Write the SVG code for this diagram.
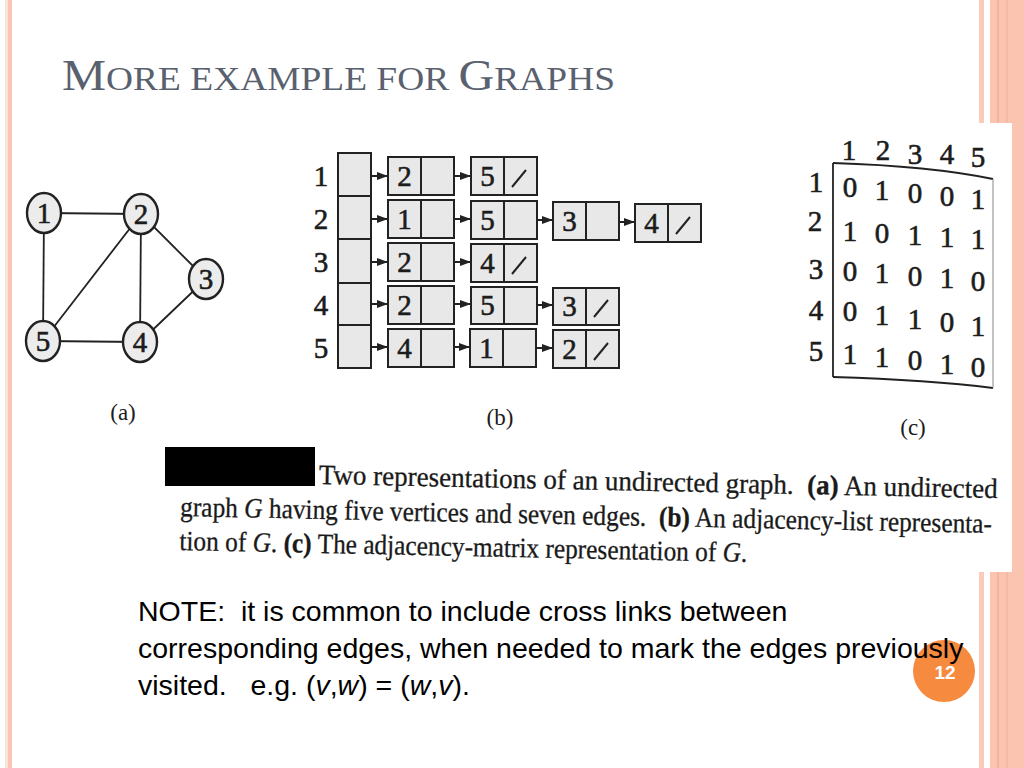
<svg xmlns="http://www.w3.org/2000/svg" width="1024" height="768" viewBox="0 0 1024 768">
<defs>
<style>
.serif{font-family:"Liberation Serif","Times New Roman",serif;fill:#1c1c1c}
.dig{font-size:29px;text-anchor:middle;stroke:#1c1c1c;stroke-width:0.6}
.lbl{font-size:23px;text-anchor:middle}
.cell{fill:#e8e8e8;stroke:#222;stroke-width:2}
.vx{fill:#ececec;stroke:#222;stroke-width:2.4}
.edge{stroke:#222;stroke-width:1.8;fill:none}
.arr{stroke:#222;stroke-width:2;fill:none;marker-end:url(#ah)}
.sl{stroke:#222;stroke-width:2}
.cap{font-family:"Liberation Serif","Times New Roman",serif;font-size:28px;fill:#1a1a1a;stroke:#1a1a1a;stroke-width:0.3}
.note{font-family:"Liberation Sans",Arial,sans-serif;font-size:28.5px;fill:#000}
</style>
<marker id="ah" markerWidth="11" markerHeight="8" refX="11" refY="4" orient="auto" markerUnits="userSpaceOnUse">
<path d="M0,0 L11,4 L0,8 z" fill="#222"/>
</marker>
</defs>
<rect width="1024" height="768" fill="#ffffff"/>
<!-- border stripes -->
<g id="border">
<rect x="5" y="0" width="3" height="768" fill="#f9e4d8"/>
<rect x="8" y="0" width="4" height="768" fill="#fbc4b3"/>
<rect x="979" y="0" width="5" height="768" fill="#fccab9"/>
<rect x="990" y="0" width="34" height="768" fill="#fac4b0"/>
<rect x="997.5" y="0" width="1" height="768" fill="#efa286"/>
<rect x="1006.5" y="0" width="1" height="768" fill="#f3ad93"/>
<rect x="880" y="123" width="132" height="449" fill="#ffffff"/>
</g>
<!-- title -->
<text id="title" x="62" y="90" font-family="Liberation Serif,'Times New Roman',serif" fill="#59616e" textLength="553" lengthAdjust="spacingAndGlyphs"><tspan font-size="45">M</tspan><tspan font-size="34">ORE EXAMPLE FOR </tspan><tspan font-size="45">G</tspan><tspan font-size="34">RAPHS</tspan></text>

<!-- connectors -->
<g id="connectors">
<line class="edge" x1="44" y1="213" x2="141" y2="214"/>
<line class="edge" x1="44" y1="213" x2="43" y2="341"/>
<line class="edge" x1="141" y1="214" x2="43" y2="341"/>
<line class="edge" x1="141" y1="214" x2="140" y2="342"/>
<line class="edge" x1="141" y1="214" x2="206" y2="279"/>
<line class="edge" x1="206" y1="279" x2="140" y2="342"/>
<line class="edge" x1="43" y1="341" x2="140" y2="342"/>
<!-- adjacency list arrows -->
<line class="arr" x1="355" y1="176" x2="388" y2="176"/>
<line class="arr" x1="437" y1="176" x2="471" y2="176"/>
<line class="arr" x1="355" y1="219" x2="388" y2="219"/>
<line class="arr" x1="437" y1="219" x2="471" y2="219"/>
<line class="arr" x1="519" y1="220" x2="553" y2="220"/>
<line class="arr" x1="602" y1="222" x2="635" y2="222"/>
<line class="arr" x1="355" y1="262" x2="388" y2="262"/>
<line class="arr" x1="437" y1="262" x2="471" y2="262"/>
<line class="arr" x1="355" y1="304" x2="388" y2="304"/>
<line class="arr" x1="437" y1="304" x2="471" y2="304"/>
<line class="arr" x1="519" y1="305" x2="553" y2="305"/>
<line class="arr" x1="354" y1="347" x2="388" y2="347"/>
<line class="arr" x1="436" y1="347" x2="470" y2="347"/>
<line class="arr" x1="519" y1="348" x2="553" y2="348"/>
</g>

<!-- graph (a) nodes -->
<g id="v1"><ellipse class="vx" cx="44" cy="213" rx="17" ry="20"/><text class="serif dig" x="44" y="223">1</text></g>
<g id="v2"><ellipse class="vx" cx="141" cy="214" rx="17" ry="20"/><text class="serif dig" x="141" y="224">2</text></g>
<g id="v3"><ellipse class="vx" cx="206" cy="279" rx="17" ry="20"/><text class="serif dig" x="206" y="289">3</text></g>
<g id="v4"><ellipse class="vx" cx="140" cy="342" rx="17" ry="20"/><text class="serif dig" x="140" y="352">4</text></g>
<g id="v5"><ellipse class="vx" cx="43" cy="341" rx="17" ry="20"/><text class="serif dig" x="43" y="351">5</text></g>
<text id="label-a" class="serif lbl" x="123" y="420">(a)</text>

<!-- adjacency list (b) -->
<g id="row-labels">
<text class="serif dig" x="321" y="186">1</text>
<text class="serif dig" x="321" y="229">2</text>
<text class="serif dig" x="321" y="272">3</text>
<text class="serif dig" x="321" y="315">4</text>
<text class="serif dig" x="321" y="358">5</text>
</g>
<g id="head-array">
<rect class="cell" x="338" y="153" width="33" height="215"/>
<line class="sl" x1="338" y1="196" x2="371" y2="196"/>
<line class="sl" x1="338" y1="239" x2="371" y2="239"/>
<line class="sl" x1="338" y1="283" x2="371" y2="283"/>
<line class="sl" x1="338" y1="325" x2="371" y2="325"/>
</g>
<!-- row 1 -->
<g id="n1a"><rect class="cell" x="388" y="157" width="66" height="38"/><line class="sl" x1="421" y1="157" x2="421" y2="195"/><text class="serif dig" x="404.5" y="186">2</text></g>
<g id="n1b"><rect class="cell" x="471" y="157" width="66" height="38"/><line class="sl" x1="504" y1="157" x2="504" y2="195"/><text class="serif dig" x="487.5" y="186">5</text><line class="sl" x1="512" y1="187" x2="526" y2="170"/></g>
<!-- row 2 -->
<g id="n2a"><rect class="cell" x="388" y="200" width="66" height="38"/><line class="sl" x1="421" y1="200" x2="421" y2="238"/><text class="serif dig" x="404.5" y="229">1</text></g>
<g id="n2b"><rect class="cell" x="471" y="201" width="66" height="38"/><line class="sl" x1="504" y1="201" x2="504" y2="239"/><text class="serif dig" x="487.5" y="230">5</text></g>
<g id="n2c"><rect class="cell" x="553" y="202" width="66" height="38"/><line class="sl" x1="586" y1="202" x2="586" y2="240"/><text class="serif dig" x="569.5" y="231">3</text></g>
<g id="n2d"><rect class="cell" x="635" y="204" width="66" height="38"/><line class="sl" x1="668" y1="204" x2="668" y2="242"/><text class="serif dig" x="651.5" y="233">4</text><line class="sl" x1="676" y1="234" x2="690" y2="217"/></g>
<!-- row 3 -->
<g id="n3a"><rect class="cell" x="388" y="243" width="66" height="38"/><line class="sl" x1="421" y1="243" x2="421" y2="281"/><text class="serif dig" x="404.5" y="272">2</text></g>
<g id="n3b"><rect class="cell" x="471" y="244" width="66" height="38"/><line class="sl" x1="504" y1="244" x2="504" y2="282"/><text class="serif dig" x="487.5" y="273">4</text><line class="sl" x1="512" y1="274" x2="526" y2="257"/></g>
<!-- row 4 -->
<g id="n4a"><rect class="cell" x="388" y="286" width="66" height="38"/><line class="sl" x1="421" y1="286" x2="421" y2="324"/><text class="serif dig" x="404.5" y="315">2</text></g>
<g id="n4b"><rect class="cell" x="471" y="287" width="66" height="37"/><line class="sl" x1="504" y1="287" x2="504" y2="324"/><text class="serif dig" x="487.5" y="315">5</text></g>
<g id="n4c"><rect class="cell" x="553" y="288" width="66" height="37"/><line class="sl" x1="586" y1="288" x2="586" y2="325"/><text class="serif dig" x="569.5" y="316">3</text><line class="sl" x1="594" y1="317" x2="608" y2="300"/></g>
<!-- row 5 -->
<g id="n5a"><rect class="cell" x="388" y="329" width="66" height="38"/><line class="sl" x1="421" y1="329" x2="421" y2="367"/><text class="serif dig" x="404.5" y="358">4</text></g>
<g id="n5b"><rect class="cell" x="470" y="329" width="66" height="38"/><line class="sl" x1="503" y1="329" x2="503" y2="367"/><text class="serif dig" x="486.5" y="358">1</text></g>
<g id="n5c"><rect class="cell" x="553" y="330" width="66" height="38"/><line class="sl" x1="586" y1="330" x2="586" y2="368"/><text class="serif dig" x="569.5" y="359">2</text><line class="sl" x1="594" y1="360" x2="608" y2="343"/></g>
<text id="label-b" class="serif lbl" x="500" y="425">(b)</text>

<!-- adjacency matrix (c) -->
<g id="matrix">
<g class="serif dig">
<text x="849" y="160">1</text><text x="883" y="160">2</text><text x="915" y="164">3</text><text x="947" y="164">4</text><text x="978" y="167">5</text>
<text x="816" y="192">1</text><text x="815" y="231">2</text><text x="816" y="279">3</text><text x="816" y="320">4</text><text x="816" y="361">5</text>
<text x="850" y="197">0</text><text x="882" y="200">1</text><text x="915" y="203">0</text><text x="947" y="206">0</text><text x="978" y="209">1</text>
<text x="850" y="241">1</text><text x="882" y="243">0</text><text x="915" y="245">1</text><text x="947" y="247">1</text><text x="978" y="249">1</text>
<text x="850" y="281">0</text><text x="882" y="283">1</text><text x="915" y="286">0</text><text x="947" y="288">1</text><text x="978" y="291">0</text>
<text x="850" y="321">0</text><text x="882" y="325">1</text><text x="915" y="329">1</text><text x="947" y="332">0</text><text x="978" y="336">1</text>
<text x="850" y="364">1</text><text x="882" y="367">1</text><text x="915" y="370">0</text><text x="947" y="374">1</text><text x="978" y="377">0</text>
</g>
<path d="M833,163 Q930,166 993,179" class="edge"/>
<path d="M833,163 L833,377" class="edge"/>
<path d="M833,377 Q930,380 993,388" class="edge"/>
<path d="M993,179 L993,388" stroke="#888" stroke-width="1" fill="none"/>
</g>
<text id="label-c" class="serif lbl" x="913" y="435">(c)</text>

<!-- caption -->
<g id="caption">
<rect x="165" y="447" width="150" height="39" fill="#000"/>
<g transform="rotate(1.2 180 516)">
<text class="cap" x="318" y="481" textLength="679" lengthAdjust="spacingAndGlyphs" xml:space="preserve">Two representations of an undirected graph.  <tspan font-weight="bold">(a)</tspan> An undirected</text>
<text class="cap" x="180" y="516" textLength="812" lengthAdjust="spacingAndGlyphs" xml:space="preserve">graph <tspan font-style="italic">G</tspan> having five vertices and seven edges.  <tspan font-weight="bold">(b)</tspan> An adjacency-list representa-</text>
<text class="cap" x="180" y="550" textLength="568" lengthAdjust="spacingAndGlyphs">tion of <tspan font-style="italic">G</tspan>. <tspan font-weight="bold">(c)</tspan> The adjacency-matrix representation of <tspan font-style="italic">G</tspan>.</text>
</g>
</g>

<!-- page number -->
<g id="page-number">
<circle cx="944" cy="671" r="31" fill="#f68a3e"/>
<text x="945" y="679" font-family="Liberation Sans,Arial,sans-serif" font-size="19" font-weight="bold" fill="#ffffff" text-anchor="middle">12</text>
</g>

<!-- note -->
<g id="note">
<text class="note" x="138" y="621" xml:space="preserve">NOTE:  it is common to include cross links between</text>
<text class="note" x="138" y="658">corresponding edges, when needed to mark the edges previously</text>
<text class="note" x="138" y="695" xml:space="preserve">visited.   e.g. (<tspan font-style="italic">v</tspan>,<tspan font-style="italic">w</tspan>) = (<tspan font-style="italic">w</tspan>,<tspan font-style="italic">v</tspan>).</text>
</g>
</svg>
